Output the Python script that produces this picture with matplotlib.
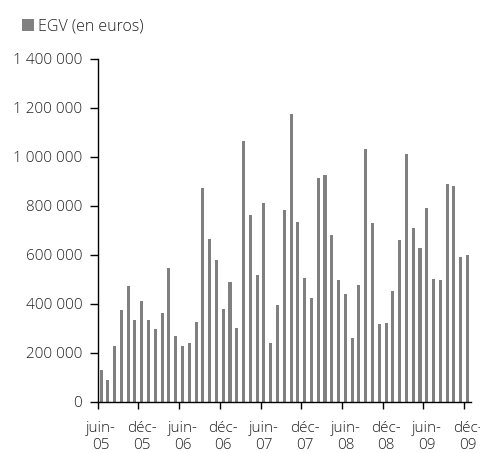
import numpy as np
import matplotlib
matplotlib.use("Agg")
import matplotlib.pyplot as plt
from matplotlib.ticker import FuncFormatter

plt.rcParams['font.family'] = ['Open Sans', 'DejaVu Sans']
plt.rcParams['font.weight'] = 'light'

# monthly values, juin-05 .. déc-09
months = ["juin-05", "juil-05", "août-05", "sept-05", "oct-05", "nov-05", "déc-05",
          "janv-06", "févr-06", "mars-06", "avr-06", "mai-06", "juin-06", "juil-06",
          "août-06", "sept-06", "oct-06", "nov-06", "déc-06", "janv-07", "févr-07",
          "mars-07", "avr-07", "mai-07", "juin-07", "juil-07", "août-07", "sept-07",
          "oct-07", "nov-07", "déc-07", "janv-08", "févr-08", "mars-08", "avr-08",
          "mai-08", "juin-08", "juil-08", "août-08", "sept-08", "oct-08", "nov-08",
          "déc-08", "janv-09", "févr-09", "mars-09", "avr-09", "mai-09", "juin-09",
          "juil-09", "août-09", "sept-09", "oct-09", "nov-09", "déc-09"]
egv = [132000, 91000, 230000, 377000, 475000, 336000, 414000, 336000, 299000, 365000,
       548000, 271000, 230000, 242000, 328000, 875000, 667000, 581000, 381000, 491000,
       303000, 1067000, 765000, 520000, 814000, 242000, 397000, 785000, 1177000, 736000,
       507000, 426000, 916000, 928000, 683000, 499000, 442000, 263000, 479000, 1034000,
       732000, 320000, 324000, 454000, 663000, 1014000, 712000, 630000, 793000, 503000,
       499000, 891000, 883000, 593000, 601000]
label_idx = list(range(0, len(months), 6))
tick_labels = ["juin-\n05", "déc-\n05", "juin-\n06", "déc-\n06", "juin-\n07",
               "déc-\n07", "juin-\n08", "déc-\n08", "juin-\n09", "déc-\n09"]

fig = plt.figure(figsize=(4.81, 4.53), dpi=100)
ax = fig.add_axes([0.203, 0.1126, 0.776, 0.7572])

x = np.arange(len(egv))
ax.bar(x, egv, width=0.45, color="#808080", label="EGV (en euros)")

ax.set_xlim(-0.5, len(egv) - 0.5)
ax.set_ylim(0, 1400000)
ax.set_yticks(np.arange(0, 1400001, 200000))
ax.yaxis.set_major_formatter(FuncFormatter(lambda v, p: f"{int(v):,}".replace(",", " ")))

ax.set_xticks(label_idx)
ax.set_xticklabels(tick_labels, linespacing=1.15)
ax.set_xticks(np.arange(-0.5, len(egv), 6), minor=True)
ax.tick_params(axis="x", which="major", length=0, pad=14)
ax.tick_params(axis="x", which="minor", length=5, width=1, direction="out")
ax.tick_params(axis="y", length=6, width=1, pad=5)
ax.tick_params(labelsize=11, labelcolor="#222222")

for s in ["top", "right"]:
    ax.spines[s].set_visible(False)
for s in ["left", "bottom"]:
    ax.spines[s].set_color("black")
    ax.spines[s].set_linewidth(1)

fig.legend(loc="upper left", bbox_to_anchor=(0.015, 0.99), frameon=False,
           fontsize=11.5, handlelength=0.75, handleheight=0.75, handletextpad=0.25,
           labelcolor="#222222")

fig.savefig("out.png", dpi=100)
